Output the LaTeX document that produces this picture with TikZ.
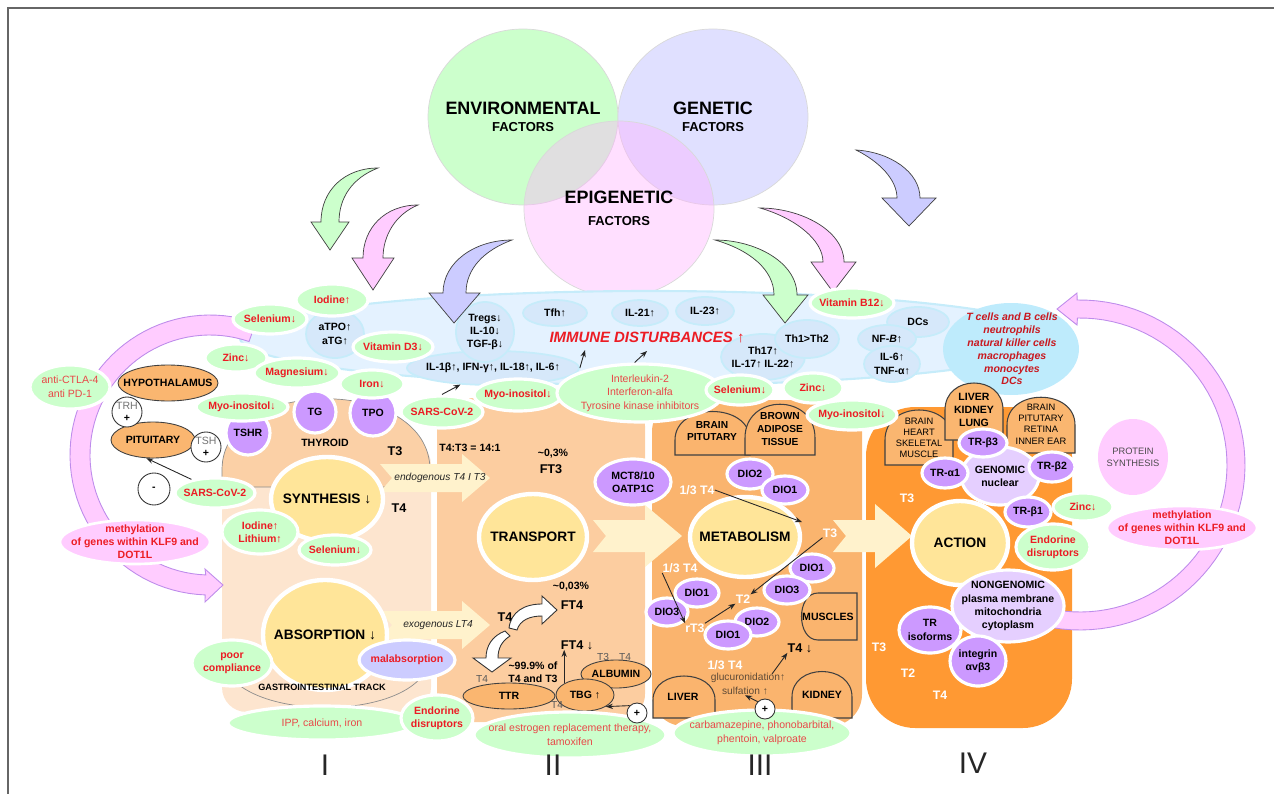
\documentclass[tikz,border=0pt]{standalone}
\usepackage{fontspec}
\setmainfont{Liberation Sans}
\usetikzlibrary{shapes.geometric,arrows.meta,positioning}

\definecolor{envgreen}{RGB}{204,255,204}
\definecolor{genlav}{RGB}{224,224,255}
\definecolor{epipink}{RGB}{255,175,255}
\definecolor{leafgreen}{RGB}{204,255,204}
\definecolor{softpink}{RGB}{255,204,255}
\definecolor{ringline}{RGB}{190,140,235}
\definecolor{lilac}{RGB}{204,204,255}
\definecolor{alertred}{RGB}{236,28,36}
\definecolor{softred}{RGB}{232,72,72}
\definecolor{immbg}{RGB}{228,242,255}
\definecolor{immedge}{RGB}{198,236,250}
\definecolor{immcell}{RGB}{214,232,250}
\definecolor{cellcyan}{RGB}{190,235,252}
\definecolor{colone}{RGB}{253,229,207}
\definecolor{thyfill}{RGB}{251,208,166}
\definecolor{coltwo}{RGB}{252,205,160}
\definecolor{colthree}{RGB}{250,180,110}
\definecolor{colfour}{RGB}{255,153,51}
\definecolor{organ}{RGB}{250,182,112}
\definecolor{yolk}{RGB}{255,229,153}
\definecolor{violetc}{RGB}{204,153,255}
\definecolor{lavc}{RGB}{229,207,255}
\definecolor{creamy}{RGB}{255,242,204}
\definecolor{brownish}{RGB}{95,75,55}

\tikzset{
  ell/.style 2 args={ellipse, minimum width=#1*0.02cm, minimum height=#2*0.02cm, inner sep=0pt},
  tb/.style={font=\fontsize{6}{7.5}\selectfont\bfseries, align=center, inner sep=0pt, text=black},
  tr/.style={tb, text=alertred},
  trn/.style={font=\fontsize{6}{7.8}\selectfont, align=center, inner sep=0pt, text=softred},
  tt/.style={font=\fontsize{7.2}{8}\selectfont\bfseries, inner sep=0pt},
  tw/.style={font=\fontsize{7}{8}\selectfont\bfseries, inner sep=0pt, text=white},
  tg/.style={font=\fontsize{5.8}{6.5}\selectfont, inner sep=0pt, text=black!65},
  tbr/.style={font=\fontsize{5.8}{6.8}\selectfont, inner sep=0pt, text=brownish},
  ital/.style={font=\fontsize{5.8}{7}\selectfont\itshape, inner sep=0pt, text=black!85},
  procfont/.style={font=\fontsize{7.8}{9}\selectfont\bfseries, inner sep=0pt},
  gell/.style n args={3}{ell={#1}{#2}, fill=leafgreen, draw=white, line width=1.8pt, label={[tr]center:{#3}}},
  gelln/.style n args={3}{ell={#1}{#2}, fill=leafgreen, draw=white, line width=1.8pt, label={[trn]center:{#3}}},
  pell/.style n args={3}{ell={#1}{#2}, fill=softpink, draw=white, line width=1.5pt, label={[tr]center:{#3}}},
  iell/.style n args={3}{ell={#1}{#2}, fill=immcell, draw=immedge, line width=1pt, label={[tb]center:{#3}}},
  vell/.style n args={3}{ell={#1}{#2}, fill=violetc, draw=white, line width=1.8pt, label={[tb]center:{#3}}},
  lell/.style n args={3}{ell={#1}{#2}, fill=lavc, draw=white, line width=1.8pt, label={[tb]center:{#3}}},
  oell/.style n args={3}{ell={#1}{#2}, fill=organ, draw=black!75, line width=0.5pt, label={[tb]center:{#3}}},
  yell/.style n args={3}{ell={#1}{#2}, fill=yolk, draw=white, line width=2.5pt, label={[procfont]center:{#3}}},
  pm/.style={circle, draw=black!80, fill=white, line width=0.5pt, minimum size=#1*0.02cm, inner sep=0pt,
    font=\fontsize{6}{6.5}\selectfont\bfseries, align=center},
  bigt/.style={font=\fontsize{10.2}{11}\selectfont\bfseries, inner sep=0pt},
  factt/.style={font=\fontsize{7.4}{8}\selectfont\bfseries, inner sep=0pt},
  bigarr/.style={draw=black!75, line width=0.4pt},
  ring/.style={fill=softpink, draw=ringline, line width=0.5pt},
  dome/.style={fill=#1, draw=black!75, line width=0.6pt},
  cream/.style={fill=creamy},
  thinarr/.style={-{Stealth[length=4pt,width=3pt]}, draw=black!85, line width=0.5pt},
  numeral/.style={font=\fontsize{17}{17}\selectfont, text=black!85, inner sep=0pt},
}

\begin{document}
\begin{tikzpicture}[x=0.02cm, y=-0.02cm]
\useasboundingbox (0,0) rectangle (1274,794);

% frame
\draw[black!60, line width=1.2pt] (8,794) -- (8,8) -- (1274,8);

% factors
\node[ell={190}{176}, fill=envgreen, draw=black!15] (env) at (523,117) {};
\node[ell={190}{176}, fill=genlav, draw=black!15] (gen) at (713,117) {};
\node[ell={190}{176}, fill=epipink, fill opacity=0.4, draw=black!15] (epi) at (619,209) {};
\node[bigt] (envt) at (523,108) {ENVIRONMENTAL};
\node[factt] (envf) at (523,127) {FACTORS};
\node[bigt] (gent) at (713,108) {GENETIC};
\node[factt] (genf) at (713,127) {FACTORS};
\node[bigt] (epit) at (619,197) {EPIGENETIC};
\node[factt] (epif) at (619,221) {FACTORS};

% immune disturbances
\node[ell={820}{94}, fill=immbg, draw=immedge, line width=1.2pt] (immune) at (650,338) {};
\node[ell={136}{92}, fill=cellcyan] (cells) at (1011,349) {};
\node[iell={58}{48}{aTPO↑\\aTG↑}] (atpo) at (335,334) {};
\node[iell={172}{34}{IL-1β↑, IFN-γ↑, IL-18↑, IL-6↑}] (il1b) at (493,368) {};
\node[iell={58}{60}{Tregs↓\\IL-10↓\\TGF-β↓}] (tregs) at (485,332) {};
\node[iell={64}{26}{Tfh↑}] (tfh) at (555,313) {};
\node[iell={56}{26}{IL-21↑}] (il21) at (640,313) {};
\node[iell={58}{28}{IL-23↑}] (il23) at (705,311) {};
\node[iell={84}{46}{Th17↑\\IL-17↑ IL-22↑}] (th17) at (763,357) {};
\node[iell={64}{38}{Th1>Th2}] (th1) at (807,339) {};
\node[iell={62}{30}{DCs}] (dcs) at (918,322) {};
\node[iell={58}{28}{NF-\textit{B}↑}] (nfb) at (887,339) {};
\node[iell={56}{36}{IL-6↑\\TNF-α↑}] (il6) at (892,364) {};
\node[font=\fontsize{8.5}{10}\selectfont\bfseries\itshape, text=alertred, inner sep=0pt] (imtxt) at (647,338) {IMMUNE DISTURBANCES ↑};
\node[font=\fontsize{6}{7.3}\selectfont\bfseries\itshape, text=alertred!85!black, align=center, inner sep=0pt] (cellt) at (1012,349)
  {T cells and B cells\\neutrophils\\natural killer cells\\macrophages\\monocytes\\DCs};

% curved arrows from the factors
\filldraw[bigarr, fill=envgreen] (378,168) .. controls (345,168) and (321,190) .. (321,222) -- (311,222) -- (330,250) -- (349,222) -- (339,222) .. controls (339,198) and (352,178) .. (378,168) -- cycle;
\filldraw[bigarr, fill=softpink] (418,205) .. controls (385,205) and (363,228) .. (363,258) -- (352,258) -- (373,290) -- (394,258) -- (383,258) .. controls (383,235) and (396,214) .. (418,205) -- cycle;
\filldraw[bigarr, fill=lilac] (512,240) .. controls (475,240) and (443,262) .. (443,293) -- (429,293) -- (454,323) -- (480,293) -- (466,293) .. controls (466,268) and (485,250) .. (512,240) -- cycle;
\filldraw[bigarr, fill=envgreen] (715,240) .. controls (755,240) and (797,262) .. (797,295) -- (808,295) -- (785,323) -- (763,295) -- (774,295) .. controls (774,270) and (750,250) .. (715,240) -- cycle;
\filldraw[bigarr, fill=softpink] (760,208) .. controls (800,208) and (844,230) .. (844,262) -- (856,262) -- (833,292) -- (811,262) -- (823,262) .. controls (823,240) and (795,218) .. (760,208) -- cycle;
\filldraw[bigarr, fill=lilac] (856,150) .. controls (890,152) and (920,172) .. (920,198) -- (936,198) -- (909,226) -- (882,198) -- (897,198) .. controls (897,180) and (880,162) .. (856,150) -- cycle;

% columns
\fill[colone, rounded corners=14] (222,440) rectangle (431,712);
\filldraw[fill=thyfill, draw=black!45, line width=0.4pt] (222,487) -- (222,470) .. controls (222,375) and (430,375) .. (430,470) -- (430,487) -- cycle;
\filldraw[fill=colone!85!thyfill, draw=black!45, line width=0.4pt] (222,655) -- (430,655) .. controls (428,725) and (224,725) .. (222,655) -- cycle;
\fill[coltwo, rounded corners=16] (437,398) rectangle (645,722);
\fill[colthree, rounded corners=18] (652,400) rectangle (862,726);
\fill[colfour, rounded corners=28] (866,407) rectangle (1072,728);

% tissues
\filldraw[dome=colthree] (675,455) -- (675,440) .. controls (675,402) and (750,402) .. (750,440) -- (750,455) -- cycle;
\filldraw[dome=colthree] (745,455) -- (745,438) .. controls (745,393) and (815,393) .. (815,438) -- (815,455) -- cycle;
\filldraw[dome=colthree] (857,593) -- (818,593) .. controls (796,593) and (796,640) .. (818,640) -- (857,640) -- cycle;
\filldraw[dome=colthree] (653,718) -- (653,700) .. controls (653,668) and (715,668) .. (715,700) -- (715,718) -- cycle;
\filldraw[dome=colthree] (792,718) -- (792,697) .. controls (792,663) and (852,663) .. (852,697) -- (852,718) -- cycle;
\filldraw[dome=organ] (885,465) -- (885,440) .. controls (885,400) and (953,400) .. (953,440) -- (953,465) -- cycle;
\filldraw[dome=organ] (945,440) -- (945,410) .. controls (945,374) and (1003,374) .. (1003,410) -- (1003,440) -- cycle;
\filldraw[dome=organ] (1007,453) -- (1007,425) .. controls (1007,388) and (1075,388) .. (1075,425) -- (1075,453) -- cycle;

% feedback rings
\path[ring] plot[domain=-71:-268, samples=60] ({210+140*cos(\x)},{455+140*sin(\x)}) -- (205,602) -- (223,585) -- (205,569)
  -- plot[domain=-268:-71, samples=60] ({210+120*cos(\x)},{455+120*sin(\x)}) -- cycle;
\path[ring] plot[domain=-91:110, samples=60] ({1080+165*cos(\x)},{465+165*sin(\x)})
  -- plot[domain=110:-91, samples=60] ({1080+147*cos(\x)},{465+147*sin(\x)}) -- (1077,325) -- (1057,309) -- (1077,293) -- cycle;

% flow arrows
\fill[cream] (380,464) -- (462,464) -- (462,454) -- (490,478) -- (462,502) -- (462,492) -- (380,492) -- (392,478) -- cycle;
\fill[cream] (380,611) -- (462,611) -- (462,601) -- (490,625) -- (462,649) -- (462,639) -- (380,639) -- (392,625) -- cycle;
\fill[cream] (593,520) -- (645,520) -- (645,505) -- (682,536) -- (645,567) -- (645,552) -- (593,552) -- (606,536) -- cycle;
\fill[cream] (833,520) -- (875,520) -- (875,504) -- (912,536) -- (875,568) -- (875,552) -- (833,552) -- (846,536) -- cycle;

% processes
\node[yell={112}{84}{SYNTHESIS ↓}] (synth) at (327,499) {};
\node[yell={124}{110}{ABSORPTION ↓}] (absorp) at (325,635) {};
\node[yell={108}{86}{TRANSPORT}] (transp) at (533,537) {};
\node[yell={110}{80}{METABOLISM}] (metab) at (745,537) {};
\node[yell={96}{84}{ACTION}] (action) at (960,543) {};

% axis
\node[oell={100}{36}{HYPOTHALAMUS}] (hypo) at (168,383) {};
\node[oell={84}{36}{PITUITARY}] (pit) at (153,440) {};
\node[pm=30] (trh) at (127,412) {{\mdseries\color{black!55}TRH}\\+};
\node[pm=30] (tsh) at (206,447) {{\mdseries\color{black!55}TSH}\\+};
\node[pm=32] (minus) at (154,489) {-};

% binding proteins
\node[oell={92}{26}{TTR}] (ttr) at (509,696) {};
\node[oell={70}{28}{ALBUMIN}] (alb) at (616,674) {};
\node[oell={58}{32}{TBG ↑}] (tbg) at (585,695) {};

% receptors, transporters, deiodinases
\node[vell={44}{44}{TSHR}] (tshr) at (248,433) {};
\node[vell={42}{42}{TG}] (tg) at (315,412) {};
\node[vell={46}{46}{TPO}] (tpo) at (373,413) {};
\node[vell={76}{46}{MCT8/10\\OATP1C}] (mct) at (633,482) {};
\node[vell={46}{30}{DIO2}] (dioa) at (750,474) {};
\node[vell={46}{28}{DIO1}] (diob) at (785,490) {};
\node[vell={44}{28}{DIO1}] (dioc) at (812,568) {};
\node[vell={46}{28}{DIO3}] (diod) at (787,590) {};
\node[vell={44}{28}{DIO1}] (dioe) at (697,593) {};
\node[vell={42}{28}{DIO3}] (diof) at (667,612) {};
\node[vell={44}{28}{DIO2}] (diog) at (757,622) {};
\node[vell={46}{28}{DIO1}] (dioh) at (728,635) {};
\node[lell={78}{58}{GENOMIC\\nuclear}] (genom) at (1000,476) {};
\node[vell={48}{28}{TR-β3}] (trb3) at (983,443) {};
\node[vell={46}{30}{TR-α1}] (tra1) at (945,473) {};
\node[vell={46}{30}{TR-β2}] (trb2) at (1052,467) {};
\node[vell={46}{30}{TR-β1}] (trb1) at (1028,512) {};
\node[vell={62}{46}{TR\\isoforms}] (triso) at (930,630) {};
\node[lell={112}{72}{NONGENOMIC\\plasma membrane\\mitochondria\\cytoplasm}] (nongen) at (1008,606) {};
\node[vell={56}{50}{integrin\\αvβ3}] (integ) at (978,661) {};

% modifiers
\node[gell={72}{32}{Iodine↑}] (iodA) at (332,300) {};
\node[gell={74}{30}{Selenium↓}] (selA) at (270,319) {};
\node[gell={80}{30}{Vitamin D3↓}] (vitD) at (393,347) {};
\node[gell={62}{28}{Zinc↓}] (zincA) at (236,358) {};
\node[gell={86}{30}{Magnesium↓}] (magA) at (297,373) {};
\node[gell={64}{28}{Iron↓}] (ironA) at (372,384) {};
\node[gell={92}{28}{Myo-inositol↓}] (myoA) at (242,407) {};
\node[gell={82}{32}{SARS-CoV-2}] (sarsA) at (442,412) {};
\node[gell={88}{32}{Myo-inositol↓}] (myoB) at (518,395) {};
\node[gelln={166}{58}{Interleukin-2\\Interferon-alfa\\Tyrosine kinase inhibitors}] (interl) at (640,393) {};
\node[gell={68}{30}{Selenium↓}] (selB) at (740,390) {};
\node[gell={60}{30}{Zinc↓}] (zincB) at (813,388) {};
\node[gell={90}{30}{Myo-inositol↓}] (myoC) at (852,415) {};
\node[gell={84}{30}{Vitamin B12↓}] (vitB) at (852,303) {};
\node[gelln={80}{44}{anti-CTLA-4\\anti PD-1}] (ctla) at (70,387) {};
\node[gell={80}{30}{SARS-CoV-2}] (sarsB) at (215,493) {};
\node[gell={76}{44}{Iodine↑\\Lithium↑}] (iodB) at (260,532) {};
\node[gell={72}{30}{Selenium↓}] (selC) at (335,550) {};
\node[gell={80}{46}{poor\\compliance}] (poor) at (232,663) {};
\node[ell={96}{40}, fill=lilac, draw=white, line width=1.8pt, label={[tr]center:malabsorption}] (malab) at (407,660) {};
\node[gelln={188}{34}{IPP, calcium, iron}] (ipp) at (322,723) {};
\node[gell={72}{46}{Endorine\\disruptors}] (endA) at (437,718) {};
\node[gelln={192}{46}{oral estrogen replacement therapy,\\tamoxifen}] (oral) at (570,735) {};
\node[gelln={178}{46}{carbamazepine, phonobarbital,\\phentoin, valproate}] (carb) at (762,733) {};
\node[gell={60}{28}{Zinc↓}] (zincC) at (1083,507) {};
\node[gell={74}{46}{Endorine\\disruptors}] (endB) at (1053,547) {};
\node[pell={150}{44}{methylation\\of genes within KLF9 and\\DOT1L}] (methA) at (135,542) {};
\node[pell={150}{44}{methylation\\of genes within KLF9 and\\DOT1L}] (methB) at (1182,528) {};
\node[ell={70}{76}, fill=softpink, label={[font=\fontsize{5.3}{6.8}\selectfont, text=black!70, align=center, inner sep=0pt]center:{PROTEIN\\SYNTHESIS}}] (protein) at (1133,457) {};
\node[pm=20] (plusA) at (637,713) {+};
\node[pm=20] (plusB) at (765,709) {+};

% texts, column I
\node[tb] (thy) at (325,443) {THYROID};
\node[tb, font=\fontsize{5.2}{6}\selectfont\bfseries] (gitr) at (322,687) {GASTROINTESTINAL TRACK};
\node[tt] (t3a) at (395,451) {T3};
\node[tt] (t4a) at (399,508) {T4};
\node[ital] (endo) at (440,478) {endogenous T4 I T3};
\node[ital] (exo) at (438,625) {exogenous LT4};

% texts, column II
\node[tb] (ratio) at (470,448) {T4:T3 = 14:1};
\node[tb] (pc3) at (553,454) {\textasciitilde 0,3\%};
\node[tt] (ft3) at (551,469) {FT3};
\node[tb] (pc4) at (571,587) {\textasciitilde 0,03\%};
\node[tt] (ft4) at (572,605) {FT4};
\node[tt] (t4b) at (505,617) {T4};
\node[tt] (ft4d) at (577,645) {FT4 ↓};
\node[tb] (bound) at (533,672) {\textasciitilde 99.9\% of\\T4 and T3};
\node[tg] (ga) at (482,679) {T4};
\node[tg] (gb) at (603,657) {T3};
\node[tg] (gc) at (625,657) {T4};
\node[tg] (gd) at (557,705) {T4};

% texts, column III
\node[tb, font=\fontsize{5.8}{7.2}\selectfont\bfseries] (brp) at (712,431) {BRAIN\\PITUTARY};
\node[tb, font=\fontsize{5.8}{7.2}\selectfont\bfseries] (bat) at (780,429) {BROWN\\ADIPOSE\\TISSUE};
\node[tb] (musc) at (828,617) {MUSCLES};
\node[tb] (liv) at (683,697) {LIVER};
\node[tb] (kid) at (822,695) {KIDNEY};
\node[tw] (q1) at (697,490) {1/3 T4};
\node[tw] (t3c) at (830,533) {T3};
\node[tw] (q2) at (680,568) {1/3 T4};
\node[tw] (t2) at (743,599) {T2};
\node[tw] (rt3) at (695,628) {rT3};
\node[tw] (q3) at (725,665) {1/3 T4};
\node[tt] (t4d) at (800,648) {T4 ↓};
\node[tbr] (gluc) at (748,678) {glucuronidation↑};
\node[tbr] (sulf) at (745,691) {sulfation ↑};

% texts, column IV
\node[font=\fontsize{5.3}{6.2}\selectfont, align=center, inner sep=0pt] (bhsm) at (919,438) {BRAIN\\HEART\\SKELETAL\\MUSCLE};
\node[tb] (lkl) at (974,410) {LIVER\\KIDNEY\\LUNG};
\node[font=\fontsize{5.3}{6.4}\selectfont, align=center, inner sep=0pt] (bpri) at (1041,424) {BRAIN\\PITUTARY\\RETINA\\INNER EAR};
\node[tw] (t3d) at (907,498) {T3};
\node[tw] (t3e) at (879,647) {T3};
\node[tw] (t2e) at (908,673) {T2};
\node[tw] (t4e) at (940,695) {T4};

% stages
\node[numeral] (sI) at (325,765) {I};
\node[numeral] (sII) at (553,765) {II};
\node[numeral] (sIII) at (760,765) {III};
\node[numeral] (sIV) at (973,763) {IV};

% white bends at T4
\filldraw[fill=white, draw=black!80, line width=0.5pt] (509,628) .. controls (511,612) and (524,604) .. (542,604) -- (542,596) -- (557,610) -- (542,624) -- (542,616) .. controls (530,616) and (520,620) .. (517,630) -- cycle;
\filldraw[fill=white, draw=black!80, line width=0.5pt] (505,631) .. controls (492,636) and (486,646) .. (486,658) -- (473,658) -- (492,672) -- (511,658) -- (498,658) .. controls (498,648) and (502,641) .. (510,636) -- cycle;

% connectors
\coordinate (imin) at (585,350);
\coordinate (imin2) at (647,351);
\coordinate (t3in) at (802,522);
\coordinate (glucout) at (772,674);
\draw[thinarr] (sarsB.150) -- (pit.250);
\draw[thinarr] (sarsA.north) -- (il1b.207);
\draw[thinarr] (il1b.east) -- (imin);
\draw[thinarr] (interl.100) -- (imin2);
\draw[thinarr] (q1.east) -- (t3in);
\draw[thinarr] (t3c.south west) -- (t2.north east);
\draw[thinarr] (q2.south west) -- (rt3.north west);
\draw[thinarr] (rt3.north east) -- (t2.south west);
\draw[thinarr] (plusB.north west) -- (sulf.south);
\draw[thinarr] (glucout) -- (t4d.south west);
\draw[thinarr] (tbg.north west) -- (tbg.north west |- ft4d.south);
\draw[thinarr] (plusA.north west) -- (tbg.south east);

\end{tikzpicture}
\end{document}
